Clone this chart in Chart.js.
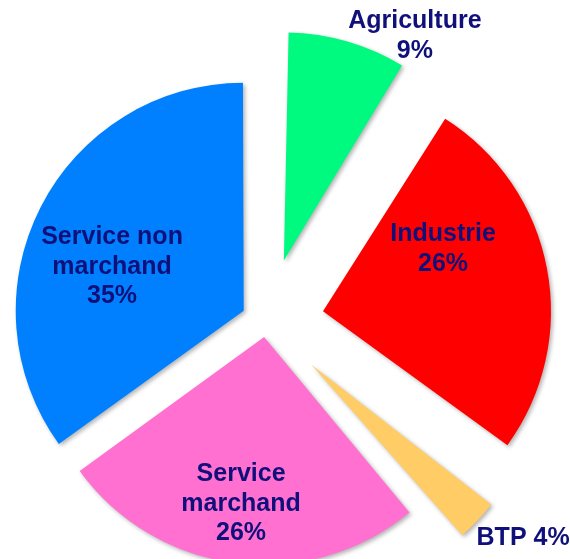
<!DOCTYPE html>
<html lang="fr">
<head>
<meta charset="utf-8">
<title>Répartition par secteur</title>
<script src="https://cdn.jsdelivr.net/npm/chart.js@4.4.1/dist/chart.umd.min.js"></script>
<style>
  html, body { margin: 0; padding: 0; background: #fff; }
  #wrap { position: relative; width: 570px; height: 559px; }
</style>
</head>
<body>
<div id="wrap"><canvas id="pieChart"></canvas></div>
<script>
// données
const categories = ['Agriculture', 'Industrie', 'BTP', 'Service marchand', 'Service non marchand'];
const shares = [9, 26, 4, 26, 35];
// découpage des étiquettes en lignes
const labelLines = [
    ['Agriculture', shares[0] + '%'],
    ['Industrie', shares[1] + '%'],
    ['BTP ' + shares[2] + '%'],
    ['Service', 'marchand', shares[3] + '%'],
    ['Service non', 'marchand', shares[4] + '%']
];

// style
const colors = ['#00FA80', '#FF0000', '#FFCC66', '#FF70D0', '#0080FF'];
const explodePx = [64, 58, 62, 15, 25];          // écart voulu de chaque part (px)
const labelPolar = [                              // [rayon relatif, décalage angulaire en degrés]
    [1.414, 11.3], [0.840, -11.6], [1.472, -3.2], [0.806, 0.6], [0.717, -7.35]
];
const textColor = '#10107A';
const pieRadius = 228;

// Chart.js v4 déplace une part de offset/4
const offsets = explodePx.map(px => px * 4);

// Chart.js agrandit aussi le rayon des parts décalées (offset/4 * fix) : on compense
const radiusFix = {
    id: 'radiusFix',
    beforeDatasetsDraw(chart) {
        const meta = chart.getDatasetMeta(0);
        const base = meta.controller.outerRadius;
        meta.data.forEach(arc => {
            const circ = arc.endAngle - arc.startAngle;
            const fix = 1 - Math.sin(Math.min(Math.PI, circ));
            arc.outerRadius = base - (arc.options.offset / 4) * fix;
        });
    }
};

const shadowPlugin = {
    id: 'shadow',
    beforeDatasetsDraw(chart) {
        const ctx = chart.ctx;
        ctx.save();
        ctx.shadowColor = 'rgba(0,0,0,0.3)';
        ctx.shadowBlur = 4;
        ctx.shadowOffsetX = 2;
        ctx.shadowOffsetY = 2;
    },
    afterDatasetsDraw(chart) {
        chart.ctx.restore();
    }
};

const labelPlugin = {
    id: 'sliceLabels',
    afterDraw(chart) {
        const ctx = chart.ctx;
        const meta = chart.getDatasetMeta(0);
        const R = meta.controller.outerRadius;
        ctx.save();
        ctx.font = 'bold 25px "Liberation Sans", Arial, sans-serif';
        ctx.fillStyle = textColor;
        ctx.textAlign = 'center';
        ctx.textBaseline = 'middle';
        const lh = 29.5;
        meta.data.forEach((arc, i) => {
            const a = (arc.startAngle + arc.endAngle) / 2 + labelPolar[i][1] * Math.PI / 180;
            const r = R * labelPolar[i][0];
            const cx = arc.x + Math.cos(a) * r;
            const cy = arc.y + Math.sin(a) * r;
            const lines = labelLines[i];
            lines.forEach((t, k) => {
                ctx.fillText(t, cx, cy + (k - (lines.length - 1) / 2) * lh);
            });
        });
        ctx.restore();
    }
};

new Chart(document.getElementById('pieChart'), {
    type: 'pie',
    data: {
        labels: categories,
        datasets: [{
            data: shares,
            backgroundColor: colors,
            borderWidth: 0,
            offset: offsets,
            hoverOffset: 0,
            radius: pieRadius,
            clip: false
        }]
    },
    options: {
        responsive: true,
        maintainAspectRatio: false,
        animation: false,
        layout: { padding: { left: 0, right: 38, top: 85, bottom: 0 } },
        plugins: {
            legend: { display: false },
            tooltip: { enabled: false }
        },
        events: []
    },
    plugins: [radiusFix, shadowPlugin, labelPlugin]
});
</script>
</body>
</html>
